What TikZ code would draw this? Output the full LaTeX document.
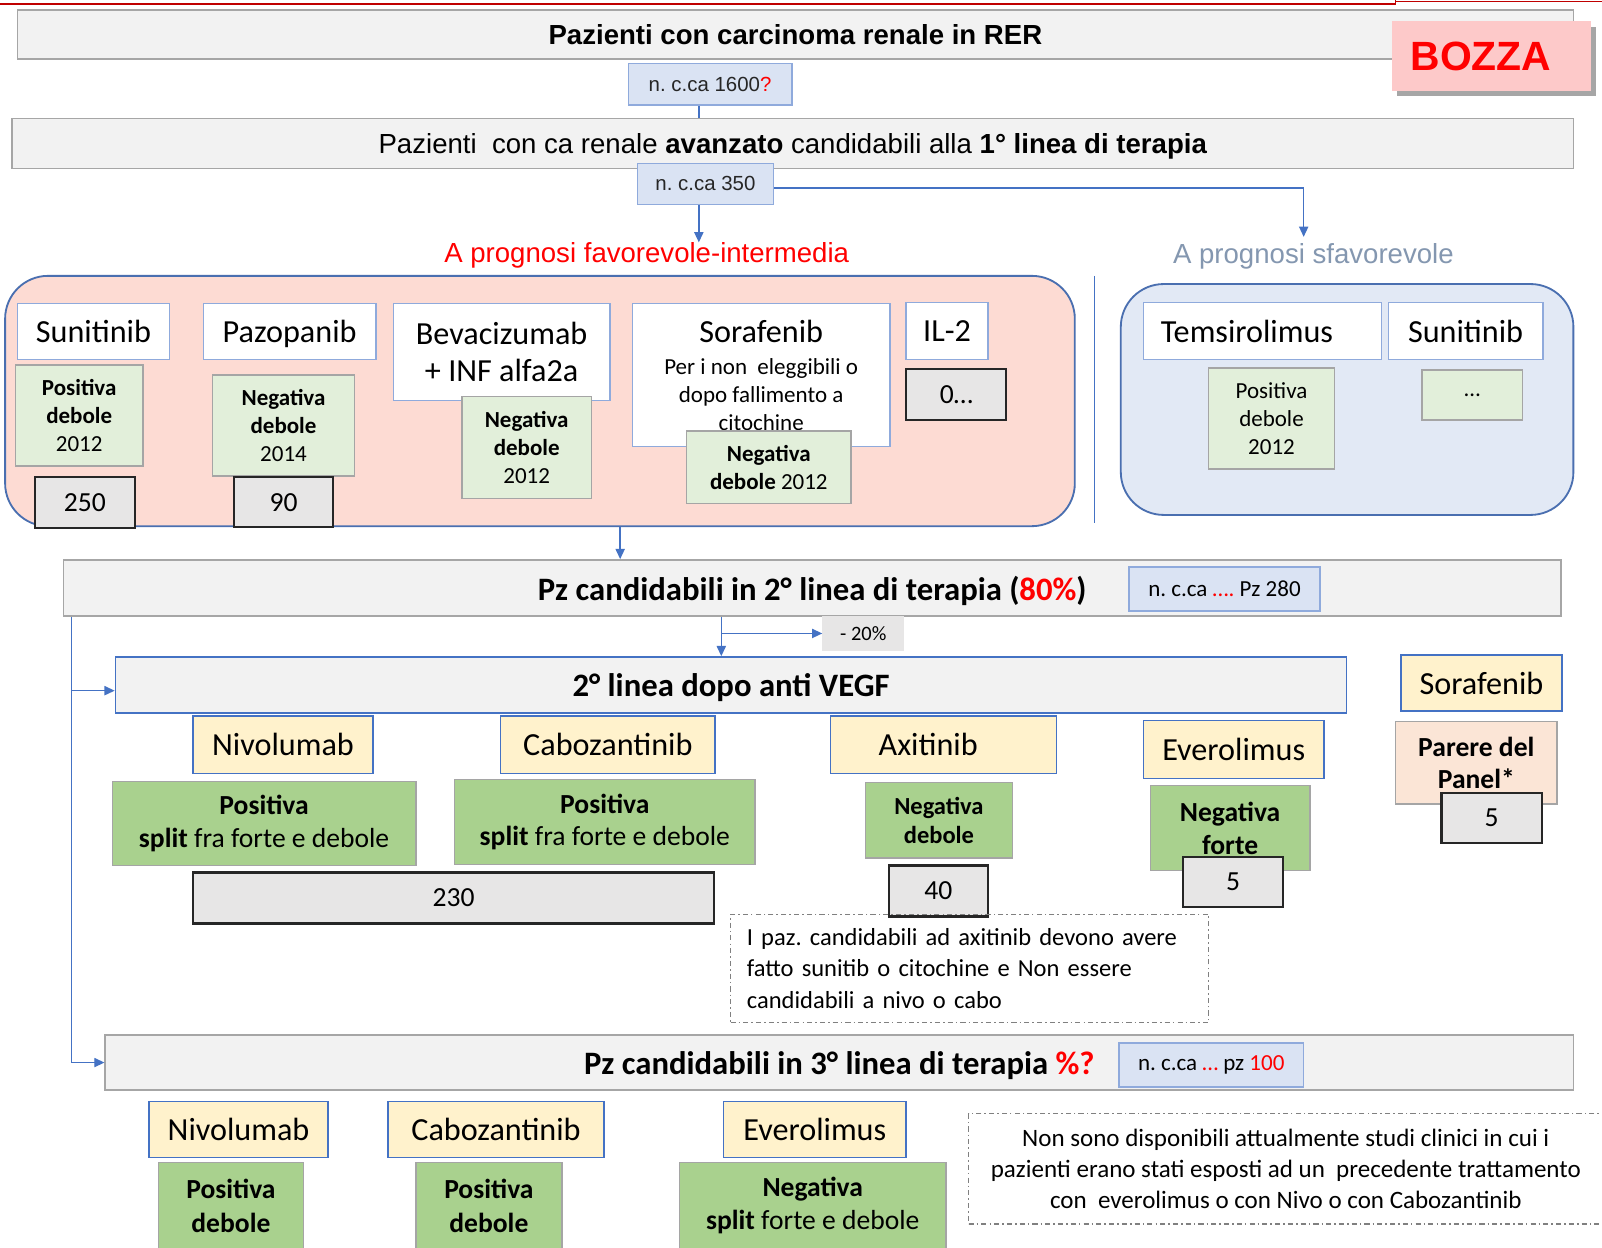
\documentclass[tikz,border=0pt]{standalone}
\usepackage{fontspec}
\setmainfont{Carlito}
\newfontfamily\ari{Liberation Sans}
\usetikzlibrary{arrows.meta,shadows}
\frenchspacing
\definecolor{hdrfill}{HTML}{F2F2F2}
\definecolor{hdrline}{HTML}{A6A6A6}
\definecolor{cntfill}{HTML}{DAE3F3}
\definecolor{cntline}{HTML}{8FAADC}
\definecolor{conn}{HTML}{4472C4}
\definecolor{grpAfill}{HTML}{FDDBD3}
\definecolor{grpBfill}{HTML}{E2E9F5}
\definecolor{grpline}{HTML}{4A6FB0}
\definecolor{lgreen}{HTML}{E2EFDA}
\definecolor{dgreen}{HTML}{A9D18E}
\definecolor{grline}{HTML}{A5A5A5}
\definecolor{yfill}{HTML}{FFF2CC}
\definecolor{yline}{HTML}{4472C4}
\definecolor{peach}{HTML}{FBE5D6}
\definecolor{numfill}{HTML}{E7E6E6}
\definecolor{numline}{HTML}{262626}
\definecolor{bozfill}{HTML}{FDC9C9}
\definecolor{sfav}{HTML}{8497B0}
\definecolor{myred}{HTML}{FF0000}
\definecolor{topred}{HTML}{C00000}
\definecolor{noteline}{HTML}{808080}
\newcommand\Fz[2]{\fontsize{#1}{#2}\selectfont}
\newcommand\Bx[7]{%
  \pgfmathsetmacro\bxw{(#5)-(#3)}\pgfmathsetmacro\bxh{(#6)-(#4)}%
  \pgfmathsetmacro\bxx{((#3)+(#5))/2}\pgfmathsetmacro\bxy{((#4)+(#6))/2}%
  \node[#2,minimum width=\bxw pt,minimum height=\bxh pt] (#1) at (\bxx,\bxy) {#7};}
\tikzset{
  every node/.style={inner sep=0pt, align=center, text=black, font=\Fz{31.5}{36}},
  hdr/.style={draw=hdrline, fill=hdrfill, line width=1.5pt},
  hdrblue/.style={draw=conn, fill=hdrfill, line width=1.5pt},
  nodepth/.style={text depth=0pt},
  cnt/.style={draw=cntline, fill=cntfill, line width=1.5pt},
  txt/.style={},
  grpa/.style={draw=grpline, fill=grpAfill, line width=1.8pt, rounded corners=42pt},
  grpb/.style={draw=grpline, fill=grpBfill, line width=1.8pt, rounded corners=42pt},
  wbox/.style={draw=cntline, fill=white, line width=1.5pt},
  lg/.style={draw=grline, fill=lgreen, line width=1.5pt, font=\Fz{22.5}{27.5}},
  dg/.style={draw=grline, fill=dgreen, line width=1.5pt, font=\Fz{27}{32}},
  yl/.style={draw=yline, fill=yfill, line width=1.5pt},
  pch/.style={draw=grline, fill=peach, line width=1.5pt},
  num/.style={draw=numline, fill=numfill, line width=2.2pt, font=\Fz{27}{32}},
  grayb/.style={fill=numfill},
  bozza/.style={fill=bozfill, drop shadow={shadow xshift=5pt, shadow yshift=-5pt, fill=black, opacity=0.35}},
  note/.style={draw=noteline, line width=1.1pt, dash pattern=on 5pt off 3pt on 1.5pt off 3pt},
  arr/.style={draw=conn, line width=1.4pt, -{Triangle[length=10pt,width=9pt]}},
  ln/.style={draw=conn, line width=1.4pt},
}
\begin{document}
\begin{tikzpicture}[x=1pt,y=-1pt]
\fill[white] (0,0) rectangle (1568,1221);
\useasboundingbox (0,0) rectangle (1568,1221);
% top rule
\draw[topred, line width=1.6pt] (0,4) -- (1366,4) -- (1366,0);
\draw[topred, line width=0.8pt] (1366,1) -- (1568,1);
% level 0
\Bx{A}{hdr}{17}{10}{1540}{58}{\ari\bfseries\Fz{27}{32}Pazienti con carcinoma renale in RER}
\Bx{boz}{bozza}{1362}{21}{1557}{89}{\ari\bfseries\Fz{40}{46}\color{myred}BOZZA\hspace*{20pt}}
\Bx{n1600}{cnt}{615}{62}{775}{103}{\ari\Fz{20}{24}\color{black!85}n. c.ca 1600\textcolor{myred}{?}}
\Bx{B}{hdr,nodepth}{12}{116}{1540}{165}{\ari\Fz{27}{32}Pazienti\ \ con ca renale \textbf{avanzato} candidabili alla \textbf{1° linea di terapia}}
\Bx{n350}{cnt}{624}{160}{757}{200}{\ari\Fz{20}{24}\color{black!85}n. c.ca 350}
\Bx{favT}{txt}{433}{238}{833}{262}{\ari\Fz{27}{32}\color{myred}A prognosi favorevole-intermedia}
\Bx{sfavT}{txt}{1147}{232}{1424}{270}{\ari\Fz{27}{32}\color{sfav}A prognosi sfavorevole}
% groups
\Bx{grpA}{grpa}{5}{270}{1052}{515}{}
\Bx{grpB}{grpb}{1097}{278}{1540}{504}{}
\draw[ln] (1071,270) -- (1071,512);
% group A content
\Bx{sun1}{wbox}{17}{297}{166}{352}{Sunitinib}
\Bx{sun1g}{lg}{15}{357}{140}{456}{\textbf{Positiva}\\\textbf{debole}\\2012}
\Bx{sun1n}{num}{34}{467}{132}{517}{250}
\Bx{paz}{wbox,nodepth}{199}{297}{368}{352}{Pazopanib}
\Bx{pazg}{lg}{208}{367}{347}{466}{\textbf{Negativa}\\\textbf{debole}\\2014}
\Bx{pazn}{num}{229}{467}{326}{516}{90}
\Bx{bev}{wbox}{385}{297}{597}{392}{\Fz{31.5}{40}Bevacizumab\\+ INF alfa2a}
\Bx{bevg}{lg}{452}{388}{579}{488}{\textbf{Negativa}\\\textbf{debole}\\2012}
\Bx{sor}{wbox}{619}{297}{871}{437}{}
\node (sorT1) at (745,324) {Sorafenib};
\node[font=\Fz{22.5}{27.5}] (sorT2) at (745,386) {Per i non\ \ eleggibili o\\dopo fallimento a\\citochine};
\Bx{sorg}{lg}{672}{422}{833}{493}{\textbf{Negativa}\\\textbf{debole} 2012}
\Bx{il2}{wbox}{887}{296}{967}{352}{IL-2}
\Bx{il2n}{num}{887}{361}{985}{411}{0…}
% group B content
\Bx{tem}{wbox}{1119}{296}{1352}{352}{Temsirolimus\hspace*{30pt}}
\Bx{sun2}{wbox}{1359}{296}{1510}{352}{Sunitinib}
\Bx{temg}{lg}{1183}{360}{1306}{459}{Positiva\\debole\\2012}
\Bx{sun2g}{lg}{1392}{362}{1490}{411}{…}
% second line
\Bx{C}{hdr,nodepth}{62}{548}{1528}{603}{\Fz{32}{38}\bfseries Pz candidabili in 2° linea di terapia (\textcolor{myred}{80\%})}
\Bx{n280}{cnt}{1105}{555}{1292}{598}{\Fz{22.5}{27}n. c.ca \textcolor{myred}{….} Pz 280}
\Bx{m20}{grayb}{805}{603}{885}{637}{\Fz{20}{24}- 20\%}
\Bx{D}{hdrblue,nodepth}{113}{643}{1318}{698}{\Fz{32}{38}\bfseries 2° linea dopo anti VEGF}
\Bx{sor2}{yl}{1371}{641}{1529}{696}{Sorafenib}
\Bx{niv2}{yl}{189}{701}{365}{757}{Nivolumab}
\Bx{cab2}{yl}{490}{701}{700}{757}{Cabozantinib}
\Bx{axi2}{yl}{813}{701}{1034}{757}{Axitinib\hspace*{30pt}}
\Bx{evr2}{yl}{1119}{705}{1296}{762}{Everolimus}
\Bx{niv2g}{dg}{110}{765}{407}{847}{\textbf{Positiva}\\\textbf{split} fra forte e debole}
\Bx{cab2g}{dg}{445}{763}{739}{846}{\textbf{Positiva}\\\textbf{split} fra forte e debole}
\Bx{axi2g}{dg,font={\Fz{24}{29}\bfseries}}{847}{766}{991}{840}{Negativa\\debole}
\Bx{evr2g}{dg,font={\Fz{27}{32}\bfseries}}{1126}{769}{1282}{852}{Negativa\\forte}
\Bx{panel}{pch,font={\Fz{27}{31}\bfseries}}{1366}{706}{1524}{787}{Parere del\\Panel*}
\Bx{n230}{num}{189}{854}{699}{904}{230}
\Bx{n40}{num}{870}{847}{967}{897}{40}
\Bx{n5a}{num}{1158}{839}{1256}{888}{5}
\Bx{n5b}{num}{1411}{776}{1509}{825}{5}
\Bx{note1}{note,text width=436pt,align=left,font=\Fz{24}{30.5}}{715}{895}{1183}{1001}{I paz. candidabili ad axitinib devono avere\\fatto sunitib o citochine e Non essere\\candidabili a nivo o cabo}
% third line
\Bx{E}{hdr,nodepth}{103}{1013}{1540}{1067}{\Fz{32}{38}\bfseries Pz candidabili in 3° linea di terapia \textcolor{myred}{\%?}}
\Bx{n100}{cnt}{1095}{1021}{1276}{1064}{\Fz{22.5}{27}n. c.ca \textcolor{myred}{…} pz \textcolor{myred}{100}}
\Bx{niv3}{yl}{146}{1078}{321}{1133}{Nivolumab}
\Bx{cab3}{yl}{380}{1078}{591}{1133}{Cabozantinib}
\Bx{evr3}{yl}{708}{1078}{887}{1133}{Everolimus}
\Bx{niv3g}{dg,font={\Fz{27}{33}\bfseries}}{155}{1138}{297}{1222}{Positiva\\debole}
\Bx{cab3g}{dg,font={\Fz{27}{33}\bfseries}}{407}{1138}{550}{1222}{Positiva\\debole}
\Bx{evr3g}{dg,font=\Fz{27}{33}}{665}{1138}{926}{1222}{\textbf{Negativa}\\\textbf{split} forte e debole}
\Bx{note2}{note,font=\Fz{24.5}{30.5}}{948}{1090}{1569}{1198}{Non sono disponibili attualmente studi clinici in cui i\\pazienti erano stati esposti ad un\ \ precedente trattamento\\con\ \ everolimus o con Nivo o con Cabozantinib}
% helper coordinates
\coordinate (x684) at (684,0);
\coordinate (x1276) at (1276,0);
\coordinate (y184) at (0,184);
\coordinate (x607) at (607,0);
\coordinate (x706) at (706,0);
\coordinate (x70) at (70,0);
\coordinate (y676) at (0,676);
% connectors
\draw[ln] (n1600.south -| x684) -- (B.north -| x684);
\draw[arr] (n350.south -| x684) -- (favT.north -| x684);
\draw[arr] (n350.east |- y184) -| (sfavT.north -| x1276);
\draw[arr] (grpA.south -| x607) -- (C.north -| x607);
\draw[arr] (C.south -| x706) -- (D.north -| x706);
\draw[arr] (x706 |- m20.west) -- (m20.west);
\draw[arr] (C.south -| x70) |- (E.west);
\draw[arr] (x70 |- y676) -- (D.west |- y676);
\end{tikzpicture}
\end{document}
